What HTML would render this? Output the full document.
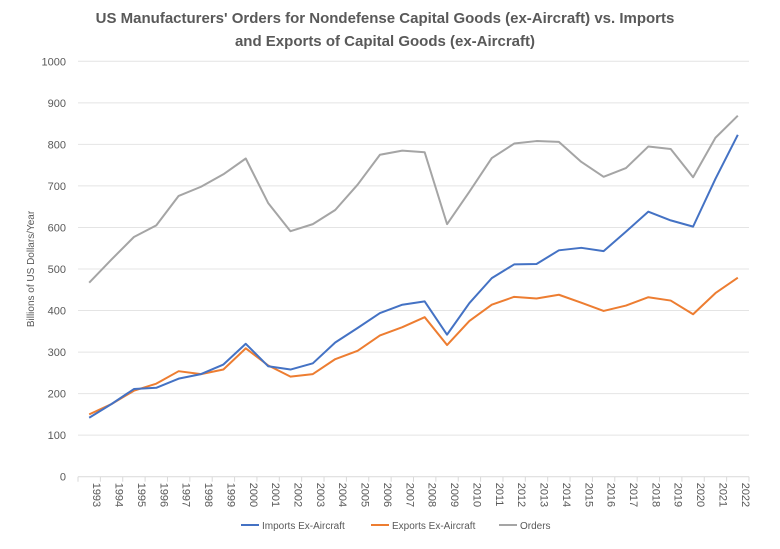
<!DOCTYPE html>
<html><head><meta charset="utf-8"><style>
body{margin:0;background:#fff;font-family:"Liberation Sans",sans-serif}
svg text{font-family:"Liberation Sans",sans-serif}
</style></head><body>
<svg id="chart" width="780" height="544">
<text x="385" y="23" text-anchor="middle" font-size="15" font-weight="bold" fill="#595959">US Manufacturers' Orders for Nondefense Capital Goods (ex-Aircraft) vs. Imports</text>
<text x="385" y="46" text-anchor="middle" font-size="15" font-weight="bold" fill="#595959">and Exports of Capital Goods (ex-Aircraft)</text>
<text transform="translate(34,269) rotate(-90)" text-anchor="middle" font-size="10" fill="#595959">Billions of US Dollars/Year</text>
<g id="grid"></g><g id="xaxis"></g><g id="series"></g>
<g>
<line x1="241" y1="525" x2="259" y2="525" stroke="#4472C4" stroke-width="2"/>
<text x="262" y="529" font-size="10" fill="#595959">Imports Ex-Aircraft</text>
<line x1="371" y1="525" x2="389" y2="525" stroke="#ED7D31" stroke-width="2"/>
<text x="392" y="529" font-size="10" fill="#595959">Exports Ex-Aircraft</text>
<line x1="499" y1="525" x2="517" y2="525" stroke="#A5A5A5" stroke-width="2"/>
<text x="520" y="529" font-size="10" fill="#595959">Orders</text>
</g>
</svg>
<script>
const years=[1993,1994,1995,1996,1997,1998,1999,2000,2001,2002,2003,2004,2005,2006,2007,2008,2009,2010,2011,2012,2013,2014,2015,2016,2017,2018,2019,2020,2021,2022];
const orders=[467,523,577,605,676,698,728,766,659,591,608,642,703,775,785,781,608,686,767,802,808,806,758,722,743,795,789,721,816,869];
const imports=[142,175,211,214,236,247,270,320,266,258,273,323,358,394,414,422,342,418,478,511,512,545,551,543,590,638,617,602,717,823];
const exportsV=[150,175,207,224,254,247,258,309,268,241,247,283,303,340,360,384,317,375,414,433,429,438,419,399,412,432,424,391,442,479];
const yTicks=[0,100,200,300,400,500,600,700,800,900,1000];
const NS="http://www.w3.org/2000/svg";
const L=78,R=749,T=61.3,B=476.7;
const bw=(R-L)/years.length;
const xs=i=>L+bw*(i+0.5);
const ys=v=>B-(v/1000)*(B-T);
function mk(tag,attrs,parent){const e=document.createElementNS(NS,tag);for(const k in attrs)e.setAttribute(k,attrs[k]);parent.appendChild(e);return e;}
const grid=document.getElementById('grid');
yTicks.forEach(t=>{
  const ln=mk('line',{x1:L,x2:R,y1:ys(t),y2:ys(t),stroke:t===0?'#d9d9d9':'#e4e4e4','stroke-width':1},grid);
  
  
  const tx=mk('text',{x:66,y:ys(t)+4,'text-anchor':'end','font-size':11,fill:'#595959'},grid);
  tx.textContent=t;
  
  
});
const xa=document.getElementById('xaxis');
for(let i=0;i<=years.length;i++){
  const tk=mk('line',{x1:L+bw*i,x2:L+bw*i,y1:B,y2:B+5,stroke:'#d9d9d9'},xa);
  
  
}
years.forEach((y,i)=>{
  const tx=mk('text',{transform:`translate(${xs(i)+4},${B+6}) rotate(90)`,'font-size':11,fill:'#595959'},xa);
  tx.textContent=y;
  
  
});
const sg=document.getElementById('series');
[[orders,'#A5A5A5','orders-line'],[exportsV,'#ED7D31','exports-line'],[imports,'#4472C4','imports-line']].forEach(([d,c,n])=>{
  const p=mk('polyline',{points:d.map((v,i)=>xs(i)+','+ys(v)).join(' '),fill:'none',stroke:c,'stroke-width':2,'stroke-linejoin':'round'},sg);
  
  
});
</script>
</body></html>
